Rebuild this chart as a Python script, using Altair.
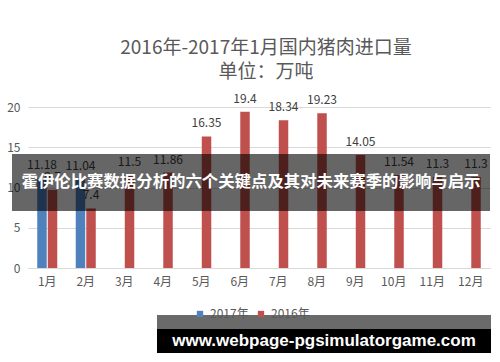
import altair as alt
import pandas as pd

months = ["1月", "2月", "3月", "4月", "5月", "6月", "7月", "8月", "9月", "10月", "11月", "12月"]
series = ["2017年", "2016年"]
v2017 = [11.18, 11.04]
v2016 = [9.7, 7.4, 11.5, 11.86, 16.35, 19.4, 18.34, 19.23, 14.05, 11.54, 11.3, 11.3]
colors = ["#4F81BD", "#C0504D"]
title_lines = ["2016年-2017年1月国内猪肉进口量", "单位：万吨"]
banner_text = "霍伊伦比赛数据分析的六个关键点及其对未来赛季的影响与启示"
watermark_text = "www.webpage-pgsimulatorgame.com"

rows = []
for m, v in zip(months, v2017):
    rows.append({"month": m, "series": "2017年", "value": v, "label": f"{v:g}"})
for m, v in zip(months, v2016):
    rows.append({"month": m, "series": "2016年", "value": v, "label": f"{v:g}"})
df = pd.DataFrame(rows)

FONT = "Noto Sans CJK SC"
W, H = 462, 161

x_enc = alt.X("month:N", sort=months, title=None,
              scale=alt.Scale(paddingInner=0.48, paddingOuter=0.24),
              axis=alt.Axis(labelAngle=0, ticks=False, domainColor="#D9D9D9",
                            labelColor="#595959", labelFont=FONT, labelFontSize=12,
                            labelPadding=8))
xoff_enc = alt.XOffset("series:N", sort=series, scale=alt.Scale(paddingInner=0.1))
y_enc = alt.Y("value:Q", title=None,
              scale=alt.Scale(domain=[0, 20]),
              axis=alt.Axis(values=[0, 5, 10, 15, 20], ticks=False, domain=False,
                            gridColor="#D9D9D9", labelColor="#595959", labelFont=FONT,
                            labelFontSize=12, labelPadding=8))

bars = alt.Chart(df).mark_bar().encode(
    x=x_enc, xOffset=xoff_enc, y=y_enc,
    color=alt.Color("series:N", sort=series,
                    scale=alt.Scale(domain=series, range=colors),
                    legend=alt.Legend(title=None, orient="none", direction="horizontal",
                                      legendX=166, legendY=201, symbolType="square",
                                      symbolSize=40, labelFont=FONT, labelFontSize=12,
                                      labelColor="#595959", columnPadding=6,
                                      symbolStrokeWidth=0)),
)

labels = alt.Chart(df).mark_text(baseline="alphabetic", dy=-9, font=FONT, fontSize=12,
                                 color="#404040").encode(
    x=alt.X("month:N", sort=months), xOffset=alt.XOffset("series:N", sort=series),
    y="value:Q", text="label:N")

one = pd.DataFrame({"k": [0]})

title1 = alt.Chart(one).mark_text(text=title_lines[0], font=FONT, fontSize=19,
                                  color="#595959", baseline="middle", align="center").encode(
    x=alt.value(238), y=alt.value(-59))
title2 = alt.Chart(one).mark_text(text=title_lines[1], font=FONT, fontSize=19,
                                  color="#595959", baseline="middle", align="center").encode(
    x=alt.value(238), y=alt.value(-35))

banner = alt.Chart(one).mark_rect(color="#000000", opacity=0.6).encode(
    x=alt.value(-16), x2=alt.value(462), y=alt.value(47), y2=alt.value(104))
banner_t = alt.Chart(one).mark_text(text=banner_text, font=FONT, fontSize=16.4,
                                    fontWeight="bold", color="#FFFFFF",
                                    baseline="middle", align="center").encode(
    x=alt.value(223), y=alt.value(75))

wm_gray = alt.Chart(one).mark_rect(color="#505050", opacity=0.85).encode(
    x=alt.value(129), x2=alt.value(463), y=alt.value(208), y2=alt.value(222))
wm_black = alt.Chart(one).mark_rect(color="#000000", opacity=1).encode(
    x=alt.value(129), x2=alt.value(463), y=alt.value(222), y2=alt.value(246))
wm_text = alt.Chart(one).mark_text(text=watermark_text, font="Liberation Sans", fontSize=17,
                                   fontWeight="bold", color="#FFFFFF",
                                   baseline="middle", align="center").encode(
    x=alt.value(296), y=alt.value(234))

chart = alt.layer(bars, labels, title1, title2, banner, banner_t, wm_gray, wm_black, wm_text).properties(
    width=W, height=H,
    autosize=alt.AutoSizeParams(type="none"),
    padding={"left": 28, "top": 107, "right": 10, "bottom": 94},
    background="#FFFFFF",
).configure_view(stroke=None)

chart.save("out.html", embed_options={"renderer": "svg", "actions": False})
